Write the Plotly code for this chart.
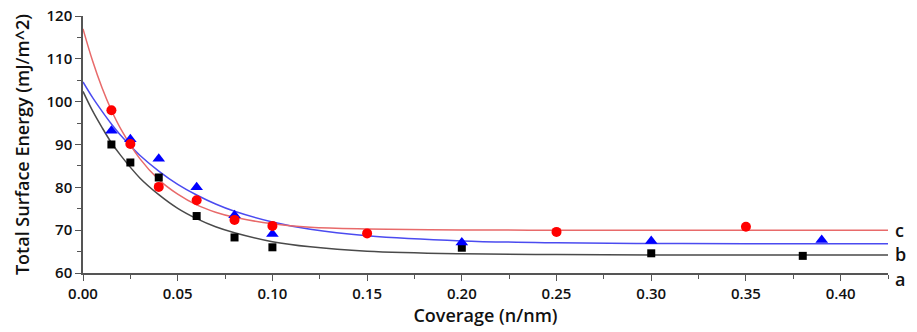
import plotly.graph_objects as go

# Measured data points
a_x = [0.015, 0.025, 0.04, 0.06, 0.08, 0.10, 0.20, 0.30, 0.38]
a_y = [90.0, 85.8, 82.3, 73.3, 68.3, 66.0, 65.9, 64.6, 64.0]
b_x = [0.015, 0.025, 0.04, 0.06, 0.08, 0.10, 0.20, 0.30, 0.39]
b_y = [93.2, 91.2, 86.7, 80.0, 73.5, 69.1, 67.1, 67.5, 67.7]
c_x = [0.015, 0.025, 0.04, 0.06, 0.08, 0.10, 0.15, 0.25, 0.35]
c_y = [98.0, 90.1, 80.1, 77.0, 72.4, 71.0, 69.25, 69.6, 70.8]

# Fitted curves
fit_x = [0.0, 0.005, 0.01, 0.015, 0.02, 0.03, 0.04, 0.05, 0.06, 0.07, 0.08,
         0.10, 0.12, 0.15, 0.20, 0.25, 0.30, 0.35, 0.425]
fit_a = [102.4, 97.9, 94.0, 90.4, 87.4, 82.2, 78.3, 75.1, 72.7, 70.8, 69.4,
         67.3, 66.1, 65.1, 64.5, 64.3, 64.2, 64.2, 64.2]
fit_b = [104.6, 101.0, 97.8, 94.8, 92.1, 87.5, 83.8, 80.7, 78.2, 76.1, 74.4,
         71.9, 70.2, 68.7, 67.5, 67.05, 66.9, 66.85, 66.8]
fit_c = [117.0, 109.6, 103.3, 98.0, 93.6, 86.7, 81.8, 78.4, 75.9, 74.2, 73.0,
         71.5, 70.7, 70.3, 70.05, 70.0, 70.0, 70.0, 70.0]

series_labels = ["a", "b", "c"]
label_y = [58.6, 64.4, 70.0]

Y_MIN, Y_MAX = 60, 120

fig = go.Figure()
line_cfg = [
    (fit_a, "#4a4a4a"),
    (fit_b, "#4b4bf0"),
    (fit_c, "#e86a6a"),
]
for ys, col in line_cfg:
    fig.add_trace(go.Scatter(x=fit_x, y=ys, mode="lines", line=dict(color=col, width=1.5, shape="spline"),
                             hoverinfo="skip", showlegend=False))

fig.add_trace(go.Scatter(x=a_x, y=a_y, mode="markers",
                         marker=dict(symbol="square", color="#000000", size=8), showlegend=False))
fig.add_trace(go.Scatter(x=b_x, y=b_y, mode="markers",
                         marker=dict(symbol="triangle-up", color="#0000ff", size=11), showlegend=False))
fig.add_trace(go.Scatter(x=c_x, y=c_y, mode="markers",
                         marker=dict(symbol="circle", color="#ff0000", size=10), showlegend=False))

for lab, ly in zip(series_labels, label_y):
    fig.add_annotation(x=1, xref="paper", y=(ly - Y_MIN) / (Y_MAX - Y_MIN), yref="paper",
                       text=lab, showarrow=False,
                       xanchor="left", yanchor="middle", xshift=5,
                       font=dict(size=18, color="#111111", weight=600))

font_family = "'Open Sans', sans-serif"
tick_font = dict(size=15, color="#111111", weight=600)
fig.update_layout(
    width=917, height=332,
    margin=dict(l=83, r=29, t=16, b=59),
    paper_bgcolor="white", plot_bgcolor="white",
    font=dict(family=font_family, color="#111111"),
    xaxis=dict(
        range=[0, 0.425], dtick=0.05, tick0=0, tickformat=".2f", automargin=False,
        showgrid=False, zeroline=False, showline=True, linecolor="#555555", linewidth=1.5,
        ticks="outside", ticklen=6, tickwidth=1.3, tickcolor="#555555",
        tickfont=tick_font,
        minor=dict(dtick=0.025, ticks="outside", ticklen=4, tickcolor="#555555", tickwidth=1.2),
        title=dict(text="Coverage (n/nm)", font=dict(size=18, color="#111111", weight=600), standoff=1),
    ),
    yaxis=dict(
        range=[Y_MIN, Y_MAX], dtick=10, tick0=60, automargin=False,
        showgrid=False, zeroline=False, showline=True, linecolor="#555555", linewidth=1.5,
        ticks="outside", ticklen=6, tickwidth=1.3, tickcolor="#555555",
        tickfont=tick_font,
        minor=dict(dtick=5, ticks="outside", ticklen=4, tickcolor="#555555", tickwidth=1.2),
        title=dict(text="Total Surface Energy (mJ/m^2)", font=dict(size=18, color="#111111", weight=600), standoff=12),
    ),
)

fig.write_html("out.html", config={"displayModeBar": False},
               post_script="document.body.style.margin='0';")
